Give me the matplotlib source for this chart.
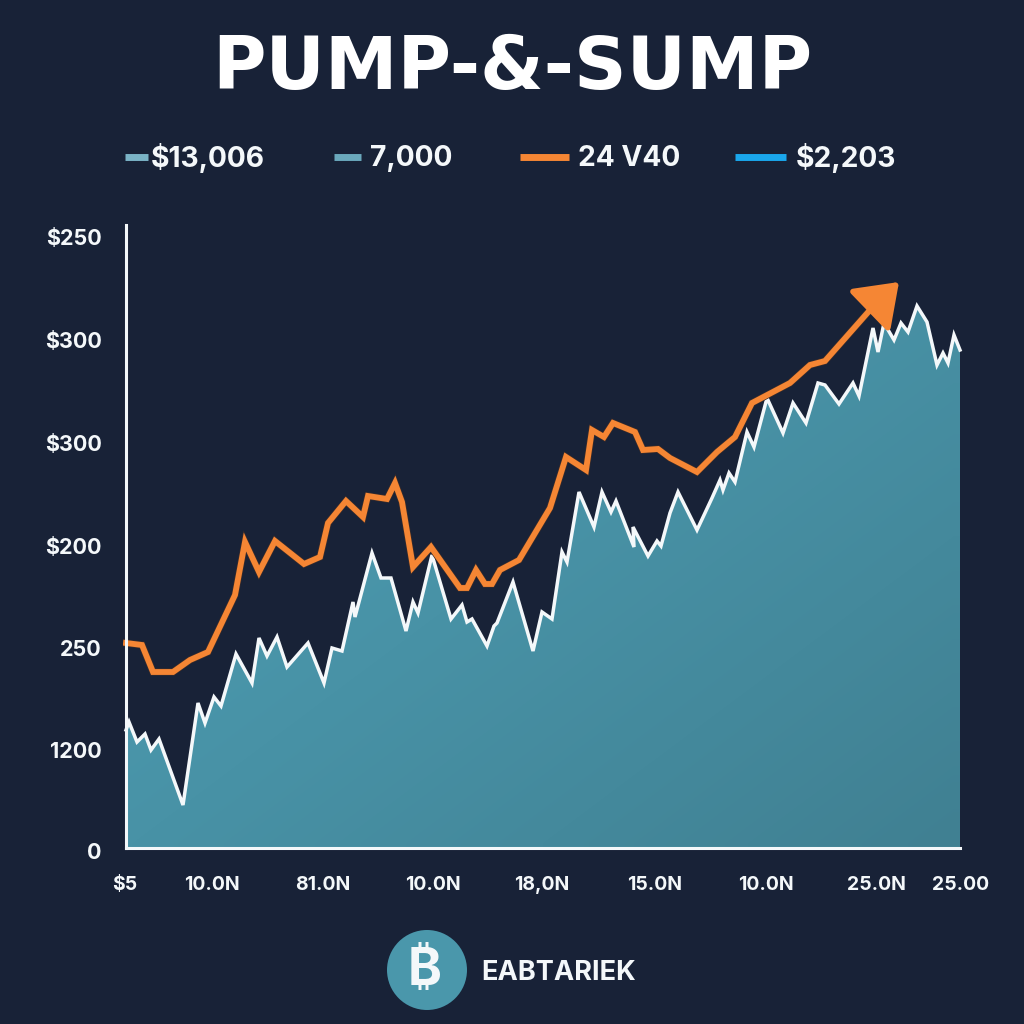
import matplotlib
matplotlib.use("Agg")
import matplotlib.pyplot as plt
import matplotlib.patheffects as pe
from matplotlib import font_manager
from matplotlib.ft2font import FT2Font
from matplotlib.lines import Line2D
from matplotlib.patches import Circle
import numpy as np

plt.rcParams['font.family'] = ['Inter', 'DejaVu Sans']

BG = '#182237'
WHITE = '#f4f8fa'
ORANGE = '#f58634'

title = 'PUMP-&-SUMP'
legend_labels = ['$13,006', '7,000', '24 V40', '$2,203']
legend_colors = ['#7ab3c6', '#6aa8bc', ORANGE, '#1aa7ec']
brand = 'EABTARIEK'

y_ticks = [-3, 98, 200, 302, 405, 508, 611]
y_labels = ['0', '1200', '250', '$200', '$300', '$300', '$250']
x_ticks = [-1, 86, 197, 307, 416, 529, 640, 750, 835]
x_labels = ['$5', '10.0N', '81.0N', '10.0N', '18,0N', '15.0N', '10.0N', '25.0N', '25.00']

area_x = [0, 3, 11, 19, 25, 33, 57, 72, 79, 88, 95, 110, 126, 133, 141, 151, 161, 182, 198, 206,
          216, 227, 229, 246, 255, 265, 280, 287, 292, 306, 325, 336, 341, 346, 361, 368, 371, 387,
          407, 416, 426, 436, 441, 453, 468, 476, 485, 490, 508, 507, 522, 531, 535, 544, 552, 571,
          586, 594, 597, 603, 609, 621, 628, 641, 657, 667, 680, 692, 699, 713, 727, 733, 747, 752,
          758, 768, 775, 782, 791, 801, 811, 817, 822, 828, 834]
area_y = [118, 126, 106, 114, 98, 109, 43, 145, 125, 151, 142, 194, 165, 210, 192, 211, 181, 205, 165, 200,
          197, 246, 231, 295, 270, 270, 217, 246, 235, 293, 229, 243, 226, 229, 202, 222, 225, 266,
          197, 236, 229, 296, 286, 356, 321, 356, 336, 347, 301, 321, 292, 307, 302, 335, 356, 318,
          350, 368, 358, 375, 366, 416, 401, 450, 415, 445, 425, 465, 463, 444, 465, 452, 520, 496,
          525, 508, 525, 516, 542, 526, 483, 495, 485, 513, 498]

orange_x = [0, 16, 27, 47, 64, 82, 109, 119, 133, 149, 178, 194, 202, 220, 237, 242, 261, 269, 276, 287,
            305, 334, 341, 350, 359, 366, 374, 393, 424, 440, 460, 466, 478, 487, 509, 517, 532, 544,
            571, 591, 609, 626, 664, 684, 699, 744]
orange_y = [205, 203, 176, 176, 188, 196, 253, 306, 276, 307, 284, 291, 325, 347, 331, 352, 349, 365, 346, 281,
            301, 260, 260, 278, 264, 264, 278, 288, 340, 391, 378, 418, 411, 425, 416, 398, 399, 390,
            376, 396, 411, 445, 465, 483, 487, 538]
arrow_tip = (773, 566)

fig = plt.figure(figsize=(10.24, 10.24), dpi=100, facecolor=BG)
ax = fig.add_axes([123 / 1024, 1 - 851 / 1024, 843 / 1024, 626 / 1024], facecolor=BG)
ax.set_xlim(-3, 840)
ax.set_ylim(-3, 623)

# teal area, gradient clipped to the filled shape
poly = ax.fill_between(area_x, 0, area_y, color='none', lw=0)
c1 = np.array([0x50, 0xa4, 0xba]) / 255
c2 = np.array([0x40, 0x80, 0x92]) / 255
gx, gy = np.meshgrid(np.linspace(0, 1, 64), np.linspace(0, 1, 64))
t = (0.5 * gx + 0.5 * gy)[..., None]
im = ax.imshow(c1 + (c2 - c1) * t, extent=[0, 834, 0, 623], aspect='auto', interpolation='bilinear', zorder=1)
im.set_clip_path(poly.get_paths()[0], transform=ax.transData)
ax.set_xlim(-3, 840)
ax.set_ylim(-3, 623)

ax.plot(area_x, area_y, color=WHITE, lw=2.5, zorder=2, solid_joinstyle='miter')
outline = [pe.withStroke(linewidth=5.2, foreground='#3a2c2a')]
ax.plot(orange_x, orange_y, color=ORANGE, lw=4.2, zorder=3, solid_joinstyle='miter', path_effects=outline)
ax.annotate('', xy=arrow_tip, xytext=(orange_x[-1], orange_y[-1]), zorder=4,
            arrowprops=dict(arrowstyle='-|>,head_length=25,head_width=18', mutation_scale=1, color=ORANGE,
                            lw=4.2, shrinkA=0, shrinkB=0))

for s in ['top', 'right']:
    ax.spines[s].set_visible(False)
ax.spines['left'].set_position(('data', 0))
ax.spines['bottom'].set_position(('data', 0))
ax.spines['left'].set_bounds(0, 623)
ax.spines['bottom'].set_bounds(0, 834)
for s in ['left', 'bottom']:
    ax.spines[s].set_color(WHITE)
    ax.spines[s].set_linewidth(2.2)
    ax.spines[s].set_zorder(5)

ax.set_yticks(y_ticks, y_labels)
ax.set_xticks(x_ticks, x_labels)
ax.tick_params(axis='y', length=0, pad=17.5, labelsize=15.5, labelcolor=WHITE)
ax.tick_params(axis='x', length=0, pad=20, labelsize=14, labelcolor=WHITE)
for lab in ax.get_yticklabels() + ax.get_xticklabels():
    lab.set_fontweight('bold')


def fx(px):
    return px / 1024


def fy(py):
    return 1 - py / 1024


# pick whichever installed family carries the bitcoin sign
coin_family = None
for f in font_manager.fontManager.ttflist:
    try:
        if 0x20BF in FT2Font(f.fname).get_charmap():
            coin_family = f.name
            if f.weight in (700, 'bold'):
                break
    except Exception:
        pass

fig.text(fx(512), fy(69), title, family='DejaVu Sans', color='white', fontsize=52.5, fontweight='bold',
         ha='center', va='center')

# legend row
swatches = [(125, 148), (334, 361), (520, 569), (735, 786)]
text_left = [151, 370, 578, 796]
for (a, b), tx, lab, col in zip(swatches, text_left, legend_labels, legend_colors):
    fig.add_artist(Line2D([fx(a), fx(b)], [fy(157), fy(157)], color=col, lw=5, solid_capstyle='butt'))
    fig.text(fx(tx), fy(158), lab, color=WHITE, fontsize=20.3, fontweight='bold', ha='left', va='center')

# logo
fig.add_artist(Circle((fx(427), fy(970)), fx(40), transform=fig.transFigure, color='#4a97ab', lw=0))
fig.text(fx(425), fy(971), '\u20bf', family=[coin_family or 'DejaVu Sans', 'DejaVu Sans'], color=WHITE,
         fontsize=37, fontweight='bold', ha='center', va='center')
fig.text(fx(481), fy(973), brand, color=WHITE, fontsize=19.6, fontweight='bold', ha='left', va='center')

fig.savefig('out.png', dpi=100, facecolor=BG)
